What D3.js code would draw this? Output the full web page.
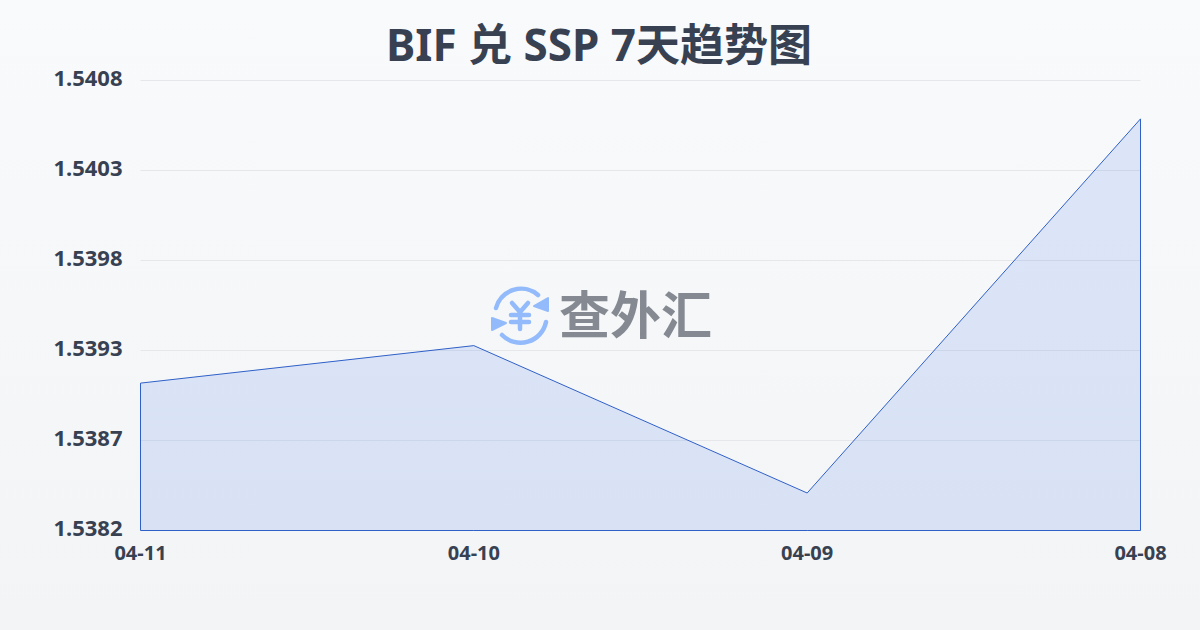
<!DOCTYPE html>
<html>
<head>
<meta charset="utf-8">
<script src="https://cdn.jsdelivr.net/npm/d3@7/dist/d3.min.js"></script>
<style>
  html, body { margin: 0; padding: 0; }
  svg { display: block; }
  text { font-family: "Noto Sans", "Noto Sans CJK SC", sans-serif; font-weight: 700; fill: #374151; }
</style>
</head>
<body>
<div id="chart"></div>
<script>
var dates = ["04-11", "04-10", "04-09", "04-08"];
var rates = [1.539065, 1.53928, 1.538435, 1.54058];
var rateTicks = [1.53822, 1.538736, 1.539252, 1.539768, 1.540284, 1.5408];
var titleText = "BIF 兑 SSP 7天趋势图";
var logoText = "查外汇";

var width = 1200;
var height = 630;
var plotLeft = 140.5, plotRight = 1140.5, plotTop = 80.5, plotBottom = 530.5;

var svg = d3.select("#chart").append("svg")
  .attr("width", width)
  .attr("height", height);

var bg = svg.append("defs").append("linearGradient")
  .attr("id", "bg")
  .attr("x1", 0).attr("y1", 0).attr("x2", 0).attr("y2", 1);
bg.append("stop").attr("offset", "0%").attr("stop-color", "#f8fafc");
bg.append("stop").attr("offset", "100%").attr("stop-color", "#f3f4f6");

svg.append("rect")
  .attr("width", width)
  .attr("height", height)
  .attr("fill", "url(#bg)");

svg.append("text")
  .attr("x", 599)
  .attr("y", 61)
  .attr("text-anchor", "middle")
  .style("font-size", "44px")
  .text(titleText);

var x = d3.scalePoint().domain(dates).range([plotLeft, plotRight]);
var y = d3.scaleLinear().domain([rateTicks[0], rateTicks[5]]).range([plotBottom, plotTop]);

// grid lines
svg.selectAll(".grid")
  .data(rateTicks)
  .enter()
  .append("line")
  .attr("class", "grid")
  .attr("x1", plotLeft)
  .attr("x2", plotRight)
  .attr("y1", function (d) { return y(d) })
  .attr("y2", function (d) { return y(d) })
  .attr("stroke", "#e5e7eb")
  .attr("stroke-width", 1);

// watermark logo
var logo = svg.append("g").attr("transform", "translate(520,315)");
logo.append("path")
  .attr("d", "M-24,-7 A26,26 0 0 1 18,-20")
  .attr("fill", "none").attr("stroke", "#93bbfb").attr("stroke-width", 4.5).attr("stroke-linecap", "round");
logo.append("path")
  .attr("d", "M26,7 A26,26 0 0 1 -18,20")
  .attr("fill", "none").attr("stroke", "#93bbfb").attr("stroke-width", 4.5).attr("stroke-linecap", "round");
logo.append("path").attr("d", "M14,-9 L28,-17 L28,-4 Z")
  .attr("fill", "#93bbfb").attr("stroke", "#93bbfb").attr("stroke-width", 2).attr("stroke-linejoin", "round");
logo.append("path").attr("d", "M-14,8 L-28,3 L-28,15 Z")
  .attr("fill", "#93bbfb").attr("stroke", "#93bbfb").attr("stroke-width", 2).attr("stroke-linejoin", "round");
logo.append("path")
  .attr("d", "M-8,-12 L0,-3 L8,-12 M-9,0 L9,0 M-9,7 L9,7 M0,-3 L0,14")
  .attr("fill", "none").attr("stroke", "#93bbfb").attr("stroke-width", 4.5).attr("stroke-linecap", "round");
svg.append("text")
  .attr("x", 559)
  .attr("y", 334)
  .style("font-size", "51px")
  .style("font-family", "'Noto Sans CJK SC', sans-serif")
  .style("fill", "#858a92")
  .text(logoText);

// area and line
var area = d3.area()
  .x(function (d, i) { return x(dates[i]) })
  .y0(plotBottom)
  .y1(function (d) { return y(d) });

svg.append("path")
  .datum(rates)
  .attr("d", area)
  .attr("fill", "#2563eb")
  .attr("fill-opacity", 0.13)
  .attr("stroke", "#2f60c8")
  .attr("stroke-width", 1);

// axes
var yAxis = d3.axisLeft(y).tickValues(rateTicks).tickFormat(d3.format(".4f")).tickSize(0).tickPadding(18);
var gy = svg.append("g").attr("transform", "translate(" + plotLeft + ",-2)").call(yAxis);
gy.select(".domain").remove();
gy.selectAll("text").style("font-size", "22px");

var xAxis = d3.axisBottom(x).tickSize(0).tickPadding(15);
var gx = svg.append("g").attr("transform", "translate(-0.5," + plotBottom + ")").call(xAxis);
gx.select(".domain").remove();
gx.selectAll("text").style("font-size", "20px");
</script>
</body>
</html>
